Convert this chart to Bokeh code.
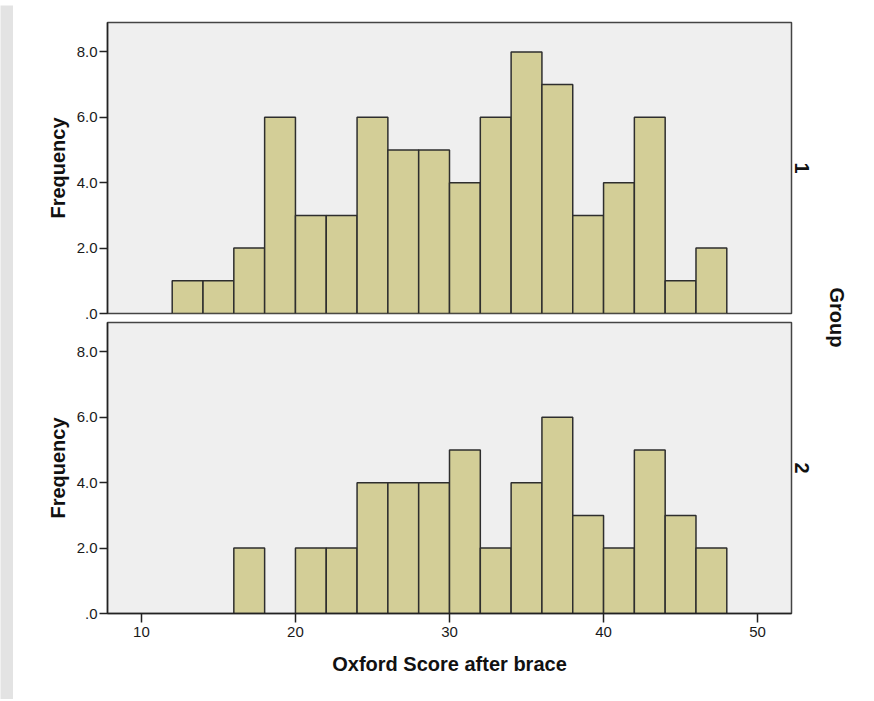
import math
from bokeh.plotting import figure
from bokeh.layouts import column, row
from bokeh.models import Label, FixedTicker, LinearAxis
from bokeh.embed import file_html
from bokeh.resources import INLINE

# ---- data ----
g1_left = [12, 14, 16, 18, 20, 22, 24, 26, 28, 30, 32, 34, 36, 38, 40, 42, 44, 46]
g1_right = [14, 16, 18, 20, 22, 24, 26, 28, 30, 32, 34, 36, 38, 40, 42, 44, 46, 48]
g1_count = [1, 1, 2, 6, 3, 3, 6, 5, 5, 4, 6, 8, 7, 3, 4, 6, 1, 2]

g2_left = [16, 20, 22, 24, 26, 28, 30, 32, 34, 36, 38, 40, 42, 44, 46]
g2_right = [18, 22, 24, 26, 28, 30, 32, 34, 36, 38, 40, 42, 44, 46, 48]
g2_count = [2, 2, 2, 4, 4, 4, 5, 2, 4, 6, 3, 2, 5, 3, 2]

group_names = ["1", "2"]
y_tick_values = [0, 2, 4, 6, 8]
y_tick_labels = [".0", "2.0", "4.0", "6.0", "8.0"]
x_tick_values = [10, 20, 30, 40, 50]
x_title = "Oxford Score after brace"
y_title = "Frequency"
facet_title = "Group"

FONT = "Liberation Sans"
BAR_FILL = "#d3ce97"
BAR_LINE = "#2e2e2e"
BG = "#efefef"
X_RANGE = (7.8, 52.2)
Y_RANGE = (0, 8.9)


def style_y(p):
    ax = p.yaxis[0]
    ax.ticker = FixedTicker(ticks=y_tick_values)
    ax.major_label_overrides = dict(zip(y_tick_values, y_tick_labels))
    ax.minor_tick_line_color = None
    ax.major_tick_in = 0
    ax.major_tick_out = 8
    ax.major_tick_line_color = "#222222"
    ax.major_tick_line_width = 1.5
    ax.axis_line_color = "#222222"
    ax.axis_line_width = 1.5
    ax.major_label_standoff = 2
    ax.major_label_text_font = FONT
    ax.major_label_text_font_size = "15px"
    ax.major_label_text_color = "#1a1a1a"
    ax.axis_label = y_title
    ax.axis_label_text_font = FONT
    ax.axis_label_text_font_size = "20px"
    ax.axis_label_text_font_style = "bold"
    ax.axis_label_text_color = "#111111"
    ax.axis_label_standoff = 5


def blank(width, height, color):
    b = figure(width=width, height=height, output_backend="svg", toolbar_location=None,
               x_axis_location=None, y_axis_location=None, min_border=0)
    b.outline_line_color = None
    b.grid.grid_line_color = None
    b.background_fill_color = color
    b.border_fill_color = color
    return b


def make_panel(height, top_border, bottom_border, lefts, rights, counts, gname, show_x):
    p = figure(width=807, height=height, x_range=X_RANGE, y_range=Y_RANGE,
               output_backend="svg", toolbar_location=None,
               x_axis_location="below" if show_x else None,
               min_border_left=94, min_border_right=29,
               min_border_top=top_border, min_border_bottom=bottom_border)
    p.background_fill_color = BG
    p.border_fill_color = "white"
    p.outline_line_color = "#444444"
    p.outline_line_width = 1.5
    p.grid.grid_line_color = None
    p.quad(left=lefts, right=rights, top=counts, bottom=0,
           fill_color=BAR_FILL, line_color=BAR_LINE, line_width=1.5)
    style_y(p)
    if show_x:
        ax = p.xaxis[0]
        ax.ticker = FixedTicker(ticks=x_tick_values)
        ax.minor_tick_line_color = None
        ax.major_tick_in = 0
        ax.major_tick_out = 9
        ax.major_tick_line_color = "#222222"
        ax.major_tick_line_width = 1.5
        ax.axis_line_color = "#222222"
        ax.axis_line_width = 1.5
        ax.major_label_standoff = 4
        ax.major_label_text_font = FONT
        ax.major_label_text_font_size = "15px"
        ax.major_label_text_color = "#1a1a1a"
        ax.axis_label = x_title
        ax.axis_label_text_font = FONT
        ax.axis_label_text_font_size = "20px"
        ax.axis_label_text_font_style = "bold"
        ax.axis_label_text_color = "#111111"
        ax.axis_label_standoff = 13
    gax = LinearAxis(axis_label=gname, ticker=FixedTicker(ticks=[]))
    gax.axis_line_color = None
    gax.major_tick_line_color = None
    gax.minor_tick_line_color = None
    gax.major_tick_out = 0
    gax.major_tick_in = 0
    gax.major_label_standoff = 0
    gax.axis_label_standoff = 3
    gax.axis_label_text_font = FONT
    gax.axis_label_text_font_size = "20px"
    gax.axis_label_text_font_style = "bold"
    gax.axis_label_text_color = "#111111"
    p.add_layout(gax, "right")
    return p


f1 = make_panel(316, 17, 8, g1_left, g1_right, g1_count, group_names[0], False)
f2 = make_panel(372, 1, 80, g2_left, g2_right, g2_count, group_names[1], True)

fg = figure(width=46, height=688, x_range=(0, 1), y_range=(0, 1),
            output_backend="svg", toolbar_location=None,
            x_axis_location=None, y_axis_location=None, min_border=0)
fg.outline_line_color = None
fg.grid.grid_line_color = None
fg.background_fill_color = "white"
fg.border_fill_color = "white"
fg.add_layout(Label(x=0.35, y=0.5465, text=facet_title, angle=-math.pi / 2,
                    text_align="center", text_baseline="middle",
                    text_font=FONT, text_font_size="20px", text_font_style="bold",
                    text_color="#111111"))

top_strip = blank(870, 5, "#f1f1f1")
left_strip = blank(13, 694, "#e3e3e3")

layout = column(top_strip, row(left_strip, column(f1, f2), fg))
open("out.html", "w").write(file_html(layout, INLINE))
